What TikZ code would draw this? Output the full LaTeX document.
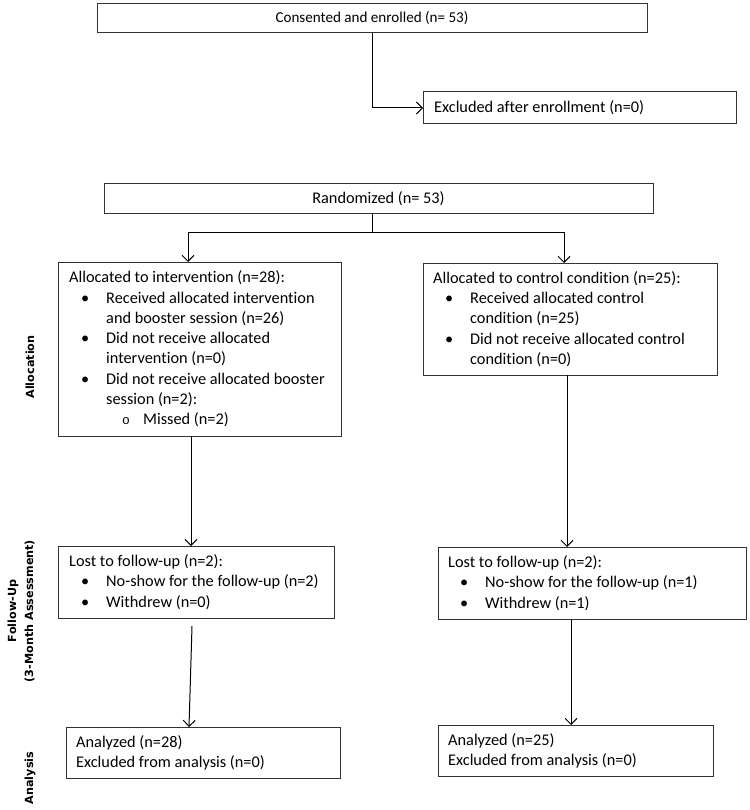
\documentclass[tikz,border=0pt]{standalone}
\usepackage{fontspec}
\setmainfont{Carlito}[Ligatures=NoCommon]
\newfontfamily\labfont{DejaVu Sans}
\newfontfamily\circfont{Liberation Mono}
\usetikzlibrary{arrows.meta,calc}
\newcommand{\bul}[1]{\makebox[37pt][l]{\hspace{12pt}•}#1}
\newcommand{\cnt}[1]{\hspace*{37pt}#1}
\newcommand{\subitm}[1]{\makebox[74pt][l]{\hspace{53pt}{\circfont\fontsize{13}{20.3}\selectfont o}}#1}
\begin{document}
\begin{tikzpicture}[x=1pt,y=-1pt,
  box/.style={draw=black!80, line width=1pt, rectangle, anchor=north west, inner sep=0pt, outer sep=0pt,
    font=\fontsize{16.3}{20.3}\selectfont, align=center},
  txt/.style={anchor=west, inner sep=0pt, align=left, font=\fontsize{16.3}{20.3}\selectfont},
  arr/.style={-{Straight Barb[length=6pt,width=12pt]}, line width=1pt},
  ln/.style={line width=1pt},
  lab/.style={font=\labfont\bfseries\fontsize{11.2}{17}\selectfont, rotate=90, align=center, inner sep=0pt}]
\useasboundingbox (0,0) rectangle (749,810);

% boxes
\node[box, minimum width=550pt, minimum height=29pt, font=\fontsize{15.1}{19}\selectfont] (enroll) at (97,4) {Consented and enrolled (n= 53)};
\node[box, minimum width=313pt, minimum height=32pt] (excl) at (423,92) {};
\node[txt] (exclt) at ($(excl.west)+(11,0)$) {Excluded after enrollment (n=0)};

\node[box, minimum width=549pt, minimum height=30pt] (rand) at (104,184) {Randomized (n= 53)};

\node[box, minimum width=283pt, minimum height=174pt] (allocI) at (58,262) {};
\node[txt] (allocIt) at ($(allocI.west)+(11,0)$) {Allocated to intervention (n=28):\\
\bul{Received allocated intervention}\\
\cnt{and booster session (n=26)}\\
\bul{Did not receive allocated}\\
\cnt{intervention (n=0)}\\
\bul{Did not receive allocated booster}\\
\cnt{session (n=2):}\\
\subitm{Missed (n=2)}};

\node[box, minimum width=294pt, minimum height=112pt] (allocC) at (423,263) {};
\node[txt] (allocCt) at ($(allocC.west)+(10,0)$) {Allocated to control condition (n=25):\\
\bul{Received allocated control}\\
\cnt{condition (n=25)}\\
\bul{Did not receive allocated control}\\
\cnt{condition (n=0)}};

\node[box, minimum width=276pt, minimum height=72pt] (fuI) at (58,546) {};
\node[txt] (fuIt) at ($(fuI.west)+(11,0)$) {Lost to follow-up (n=2):\\
\bul{No-show for the follow-up (n=2)}\\
\bul{Withdrew (n=0)}};

\node[box, minimum width=308pt, minimum height=72pt] (fuC) at (438,547) {};
\node[txt] (fuCt) at ($(fuC.west)+(10,0)$) {Lost to follow-up (n=2):\\
\bul{No-show for the follow-up (n=1)}\\
\bul{Withdrew (n=1)}};

\node[box, minimum width=274pt, minimum height=51pt] (anI) at (66,727) {};
\node[txt] (anIt) at ($(anI.west)+(10,0)$) {Analyzed (n=28)\\Excluded from analysis (n=0)};

\node[box, minimum width=275pt, minimum height=51pt] (anC) at (438,725) {};
\node[txt] (anCt) at ($(anC.west)+(10,0)$) {Analyzed (n=25)\\Excluded from analysis (n=0)};

% side labels
\node[lab] (labA) at (30,367) {Allocation};
\node[lab] (labF) at (21,611) {Follow-Up\\(3-Month Assessment)};
\node[lab] (labN) at (30,778) {Analysis};

% connectors
\draw[arr] (enroll.south) |- (excl.west);
\coordinate (rs) at ($(rand.south)+(-6.5,0)$);
\coordinate (split) at ($(rs)+(0,18)$);
\draw[ln] (rs) -- (split);
\draw[arr] (split) -| ($(allocI.north west)+(130,0)$);
\draw[arr] (split) -| ($(allocC.north west)+(141,0)$);
\draw[arr] ($(allocI.south west)+(133,0)$) -- ($(fuI.north west)+(133,0)$);
\draw[arr] ($(allocC.south west)+(144,0)$) -- ($(fuC.north west)+(129,0)$);
\coordinate (g1) at ($(fuI.south west)+(134,8)$);
\draw[arr] (g1) -- ($(anI.north west)+(123,0)$);
\draw[arr] ($(fuC.south west)+(133,0)$) -- ($(anC.north west)+(133,0)$);
\end{tikzpicture}
\end{document}
